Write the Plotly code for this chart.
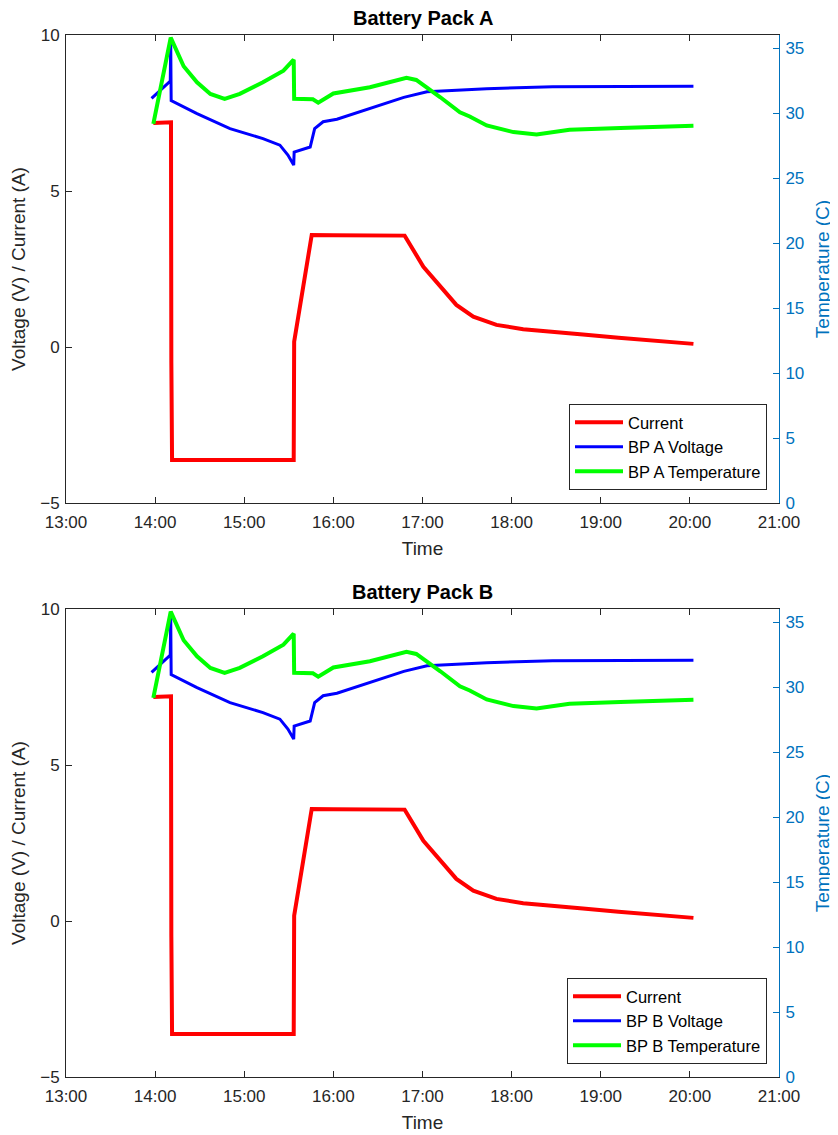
import plotly.graph_objects as go

# ---------------- data ----------------
x_tick_vals = [13, 14, 15, 16, 17, 18, 19, 20, 21]
x_tick_text = ["13:00", "14:00", "15:00", "16:00", "17:00", "18:00", "19:00", "20:00", "21:00"]
left_ticks = [-5, 0, 5, 10]
right_ticks = [0, 5, 10, 15, 20, 25, 30, 35]

# time in decimal hours
t_current = [13.98, 14.17, 14.178, 14.182, 14.19, 14.6, 15.0, 15.4, 15.555, 15.56, 15.757,
             16.0, 16.4, 16.80, 17.01, 17.20, 17.38, 17.57, 17.83, 18.13, 18.41, 18.8, 19.2, 19.6, 20.04]
current = [7.18, 7.18, 7.2, -0.5, -3.62, -3.62, -3.62, -3.62, -3.62, 0.17, 3.59,
           3.58, 3.58, 3.57, 2.57, 1.93, 1.35, 0.97, 0.71, 0.57, 0.49, 0.40, 0.30, 0.21, 0.10]

t_voltage = [13.96, 14.17, 14.175, 14.18, 14.47, 14.84, 15.21, 15.40, 15.49, 15.555, 15.56,
             15.74, 15.79, 15.885, 16.04, 16.41, 16.79, 17.05, 17.34, 17.72, 18.46, 19.2, 20.04]
voltage = [7.97, 8.52, 9.73, 7.9, 7.48, 7.0, 6.68, 6.47, 6.15, 5.83, 6.25,
           6.41, 7.0, 7.22, 7.30, 7.64, 8.0, 8.18, 8.23, 8.28, 8.34, 8.35, 8.36]

t_temp = [13.98, 14.175, 14.32, 14.47, 14.62, 14.78, 14.95, 15.21, 15.44, 15.555, 15.56,
          15.77, 15.83, 16.0, 16.41, 16.82, 16.93, 17.08, 17.20, 17.42, 17.53, 17.72,
          18.02, 18.28, 18.65, 19.22, 20.04]
temperature = [29.17, 35.8, 33.6, 32.36, 31.47, 31.09, 31.47, 32.36, 33.26, 34.1, 31.1,
               31.05, 30.8, 31.5, 31.98, 32.7, 32.54, 31.85, 31.21, 30.06, 29.73, 29.04,
               28.53, 28.35, 28.71, 28.84, 29.02]

packs = ["A", "B"]

# ---------------- styling ----------------
FONT = "Liberation Sans, Arial, sans-serif"
DARK = "#262626"
RBLUE = "#0072BD"
RED, BLUE, GREEN = "#FF0000", "#0000FF", "#00FF00"

fig = go.Figure()

# the page body has an 8px margin, so the figure sits at (8, 8) in the window
OFF = 8
W, H = 838 - OFF, 1135 - OFF
ml, mt = 66 - OFF, 35 - OFF
mr = W - (779 - OFF)
mb = H - (1077 - OFF)
ph = H - mt - mb
pw = W - ml - mr


def py(y_px):
    """window pixel row -> paper fraction"""
    return ((1077 - OFF) - (y_px - OFF)) / ph


top_dom = [py(503), 1.0]
bot_dom = [0.0, py(609)]

for i, pack in enumerate(packs):
    xa = "x" if i == 0 else "x2"
    ya_l = "y" if i == 0 else "y3"
    ya_r = "y2" if i == 0 else "y4"
    lg = "legend" if i == 0 else "legend2"
    fig.add_trace(go.Scatter(x=t_current, y=current, mode="lines", name="Current",
                             line=dict(color=RED, width=4), xaxis=xa, yaxis=ya_l, legend=lg))
    fig.add_trace(go.Scatter(x=t_voltage, y=voltage, mode="lines", name=f"BP {pack} Voltage",
                             line=dict(color=BLUE, width=3), xaxis=xa, yaxis=ya_l, legend=lg))
    fig.add_trace(go.Scatter(x=t_temp, y=temperature, mode="lines", name=f"BP {pack} Temperature",
                             line=dict(color=GREEN, width=4), xaxis=xa, yaxis=ya_r, legend=lg))

xcommon = dict(range=[13, 21], tickvals=x_tick_vals, ticktext=x_tick_text, automargin=False,
               ticks="inside", ticklen=6, tickcolor=DARK, showline=True, linecolor=DARK,
               linewidth=1, mirror="ticks", showgrid=False, zeroline=False,
               ticklabelstandoff=4,
               tickfont=dict(family=FONT, size=17, color=DARK),
               title=dict(text="Time", font=dict(family=FONT, size=19, color=DARK), standoff=10))
ylcommon = dict(range=[-5, 10], tickvals=left_ticks, ticks="inside", ticklen=6, tickcolor=DARK,
                showline=True, linecolor=DARK, linewidth=1, showgrid=False, zeroline=False,
                automargin=False, ticklabelstandoff=2,
                tickfont=dict(family=FONT, size=17, color=DARK),
                title=dict(text="Voltage (V) / Current (A)", font=dict(family=FONT, size=19, color=DARK),
                           standoff=9))
yrcommon = dict(range=[0, 36], tickvals=right_ticks, ticks="inside", ticklen=6, tickcolor=RBLUE,
                showline=True, linecolor=RBLUE, linewidth=1, showgrid=False, zeroline=False,
                automargin=False, side="right", ticklabelstandoff=2,
                tickfont=dict(family=FONT, size=17, color=RBLUE),
                title=dict(text="Temperature (C)", font=dict(family=FONT, size=19, color=RBLUE),
                           standoff=12))

legcommon = dict(font=dict(family=FONT, size=16.5, color="#000000"), bgcolor="white",
                 bordercolor=DARK, borderwidth=1, xanchor="right", yanchor="bottom",
                 x=(767 - 66) / pw, itemwidth=48, tracegroupgap=0)

fig.update_layout(
    width=W, height=H, margin=dict(l=ml, r=mr, t=mt, b=mb, autoexpand=False),
    plot_bgcolor="white", paper_bgcolor="white",
    xaxis=dict(domain=[0, 1], anchor="y", **xcommon),
    yaxis=dict(domain=top_dom, anchor="x", **ylcommon),
    yaxis2=dict(overlaying="y", anchor="x", **yrcommon),
    xaxis2=dict(domain=[0, 1], anchor="y3", **xcommon),
    yaxis3=dict(domain=bot_dom, anchor="x2", **ylcommon),
    yaxis4=dict(overlaying="y3", anchor="x2", **yrcommon),
    legend=dict(y=py(490), **legcommon),
    legend2=dict(y=py(1064), **legcommon),
    showlegend=True,
    annotations=[
        dict(text="<b>Battery Pack A</b>", x=0.5, xref="paper", y=py(18), yref="paper",
             xanchor="center", yanchor="middle", showarrow=False,
             font=dict(family=FONT, size=20, color="#000000")),
        dict(text="<b>Battery Pack B</b>", x=0.5, xref="paper", y=py(592), yref="paper",
             xanchor="center", yanchor="middle", showarrow=False,
             font=dict(family=FONT, size=20, color="#000000")),
    ],
)

fig.write_html("out.html")
